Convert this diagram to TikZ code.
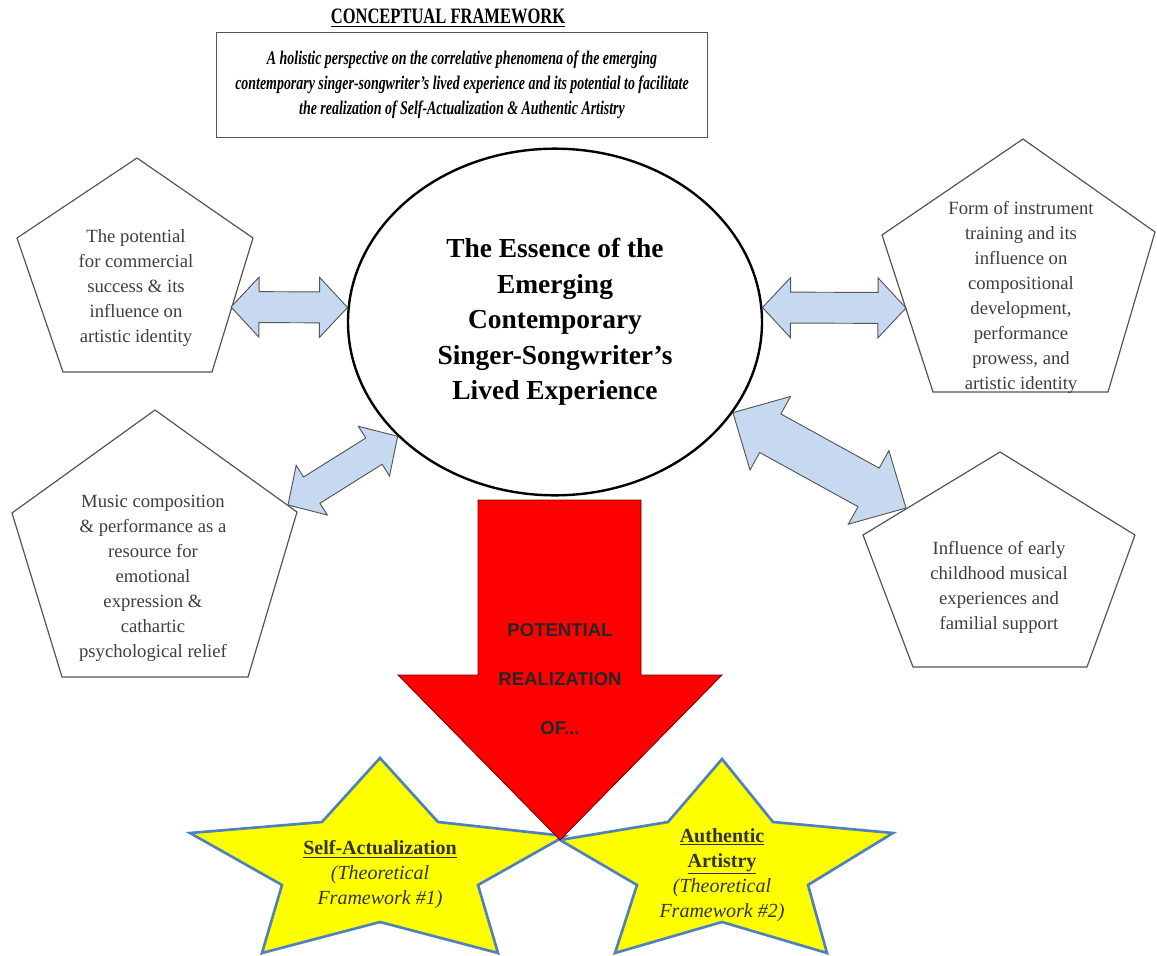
\documentclass[tikz,border=0pt]{standalone}
\usepackage{fontspec}
\usepackage{graphicx}
\setmainfont{Liberation Serif}
\newfontfamily\arialfont{Liberation Sans}
\usetikzlibrary{shapes.geometric,calc}
\definecolor{cfBlue}{RGB}{198,217,241}
\definecolor{cfEdge}{RGB}{85,85,85}
\definecolor{cfText}{RGB}{62,62,62}
\definecolor{cfStar}{RGB}{255,255,0}
\definecolor{cfStarEdge}{RGB}{79,129,189}
\definecolor{cfRed}{RGB}{255,0,0}
\newcommand{\cond}[2][0.72]{\scalebox{#1}[1]{#2}}
\newcommand{\blockarrow}[5]{%
  \filldraw[blockarrow] (#1)
    -- ($(#1)!#3!(#2)!#4!90:(#2)$) -- ($(#1)!#3!(#2)!#5!90:(#2)$)
    -- ($(#2)!#3!(#1)!#5!-90:(#1)$) -- ($(#2)!#3!(#1)!#4!-90:(#1)$)
    -- (#2)
    -- ($(#2)!#3!(#1)!#4!90:(#1)$) -- ($(#2)!#3!(#1)!#5!90:(#1)$)
    -- ($(#1)!#3!(#2)!#5!-90:(#2)$) -- ($(#1)!#3!(#2)!#4!-90:(#2)$)
    -- cycle;}

\begin{document}
\begin{tikzpicture}[x=0.75pt, y=-0.75pt,
    pentagon/.style={draw=cfEdge, line width=0.9pt, fill=white},
    pentext/.style={align=center, text=cfText, font=\fontsize{14}{18.75}\selectfont},
    blockarrow/.style={fill=cfBlue, draw=cfEdge, line width=0.7pt},
    starshape/.style={fill=cfStar, draw=cfStarEdge, line width=2pt},
    startext/.style={align=center, text=black!80, font=\fontsize{15}{18.75}\selectfont}]
    \useasboundingbox (0,0) rectangle (1157,956);

    \node[font=\fontsize{16.5}{20}\selectfont\bfseries] (title) at (448,18) {\cond[0.75]{\underline{CONCEPTUAL FRAMEWORK}}};
    \node[draw=cfEdge, line width=1.2pt, minimum width=368pt, minimum height=79pt, inner sep=0pt, align=center,
        font=\fontsize{14.5}{18.75}\selectfont\bfseries\itshape] (aim) at (462,85)
        {\cond{A holistic perspective on the correlative phenomena of the emerging}\\
         \cond{contemporary singer-songwriter’s lived experience and its potential to facilitate}\\
         \cond{the realization of Self-Actualization \& Authentic Artistry}};

    \node[ellipse, draw, line width=1.8pt, minimum width=310.5pt, minimum height=260pt, inner sep=0pt, align=center,
        font=\fontsize{20.6}{26.6}\selectfont\bfseries] (essence) at (555,322)
        {The Essence of the\\Emerging\\Contemporary\\Singer-Songwriter’s\\Lived Experience};

    \draw[pentagon] (137,158) -- (253,238) -- (212,372) -- (63,372) -- (17,238) -- cycle;
    \node[pentext] (commercial) at (136,288) {The potential\\for commercial\\success \& its\\influence on\\artistic identity};
    \coordinate (commercialTip) at (231,307);

    \draw[pentagon] (1023,139) -- (1155,232) -- (1108,392) -- (933,392) -- (882,235) -- cycle;
    \node[pentext] (training) at (1021,297) {Form of instrument\\training and its\\influence on\\compositional\\development,\\performance\\prowess, and\\artistic identity};
    \coordinate (trainingTip) at (906,308);

    \draw[pentagon] (155,410) -- (297,512) -- (248,677) -- (62,677) -- (12,513) -- cycle;
    \node[pentext] (emotion) at (153,578) {Music composition\\\& performance as a\\resource for\\emotional\\expression \&\\cathartic\\psychological relief};
    \coordinate (emotionTip) at (288,505);

    \draw[pentagon] (1000,452) -- (1135,535) -- (1087,667) -- (913,667) -- (863,535) -- cycle;
    \node[pentext] (childhood) at (999,587) {Influence of early\\childhood musical\\experiences and\\familial support};
    \coordinate (childhoodTip) at (906,508);

    \blockarrow{commercialTip}{essence.176}{21pt}{22.5pt}{11.6pt}
    \blockarrow{essence.4}{trainingTip}{21pt}{22.5pt}{11.6pt}
    \blockarrow{emotionTip}{essence.216}{21pt}{22pt}{11.6pt}
    \blockarrow{essence.333}{childhoodTip}{32pt}{31.5pt}{16.5pt}

    \filldraw[starshape] (380,758) -- (438,822) -- (565,836) -- (478,885) -- (498,953) -- (380,922)
        -- (262,953) -- (282,885) -- (190,833) -- (322,822) -- cycle;
    \node[startext] (selfact) at (380,875) {\textbf{\underline{Self-Actualization}}\\\textit{(Theoretical}\\\textit{Framework \#1)}};
    \filldraw[starshape] (722,759) -- (773,822) -- (893,833) -- (808,885) -- (827,953) -- (722,922)
        -- (615,953) -- (637,885) -- (560,840) -- (668,822) -- cycle;
    \node[startext] (artistry) at (722,875) {\textbf{\underline{Authentic}}\\\textbf{\underline{Artistry}}\\\textit{(Theoretical}\\\textit{Framework \#2)}};

    \filldraw[fill=cfRed, draw=red!40!black, line width=0.6pt] (478,500) -- (641,500) -- (641,675) -- (722,675)
        -- (560,840) -- (398,675) -- (478,675) -- cycle;
    \node[align=center, text=black!85, font=\arialfont\bfseries\fontsize{13.9}{36.75}\selectfont] (potential) at (560,679)
        {POTENTIAL\\REALIZATION\\OF...};
\end{tikzpicture}
\end{document}
